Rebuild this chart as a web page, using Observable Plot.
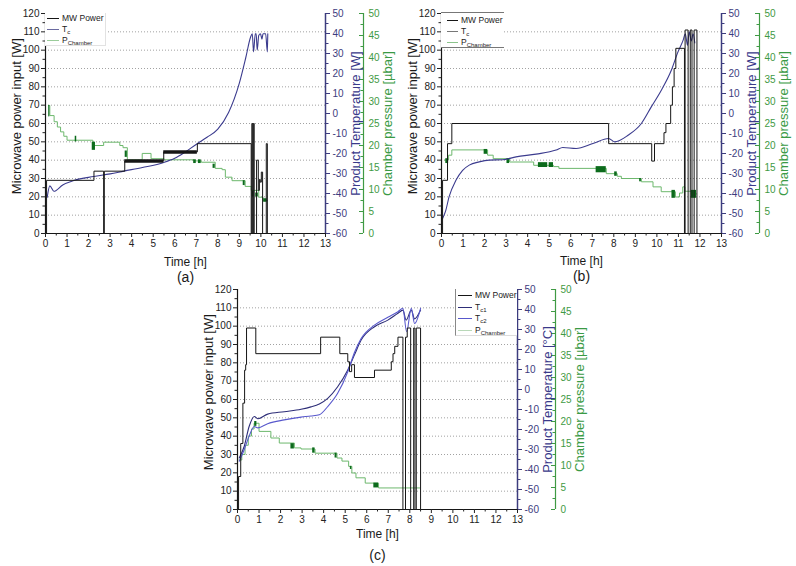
<!DOCTYPE html>
<html><head><meta charset="utf-8">
<script src="https://cdn.jsdelivr.net/npm/d3@7"></script>
<script src="https://cdn.jsdelivr.net/npm/@observablehq/plot@0.6"></script>
<style>
body{margin:0;background:#fff;font-family:"Liberation Sans",Arial,Helvetica,sans-serif;}
#wrap{position:relative;width:796px;height:566px;overflow:hidden;background:#fff;}
.panel{position:absolute;}
</style></head>
<body><div id="wrap"></div>
<script>
// ---------- Panel (a) ----------
const aPowerTime = [0, 0.05, 2.25, 2.7, 2.73, 3.68, 5.49, 7.05, 9.55, 9.58, 9.62, 9.65, 9.69, 9.8, 9.88, 9.93, 9.97, 10.02, 10.08, 10.25, 10.3, 10.35];
const aPowerW    = [0, 29,   34,   0,   34,   39.5, 44.5, 49,   0,    60,   0,    60,   0,    40,  23.5, 29.5, 28,   33.5,  0,     49,    0,    0];
const aThickT1 = [3.68, 5.49];
const aThickT2 = [5.49, 7.05];
const aThickW  = [39.5, 44.5];
const aTempTime = [0.08, 0.2, 0.39, 0.8, 1.31, 2.24, 3.0, 3.64, 4.5, 5.49, 6.0, 6.4, 7.04, 7.5, 8.0, 8.5, 9.0, 9.3, 9.52, 9.6, 9.66, 9.74, 9.78, 9.83, 9.9, 9.98, 10.05, 10.1, 10.22, 10.3, 10.32];
const aTempC    = [-41.9, -36.2, -38.9, -35.7, -33.5, -31.5, -30.2, -28.8, -27.0, -24.5, -22.4, -19.9, -15.1, -11.9, -7.8, 0.5, 15.2, 28.0, 38.1, 39.9, 30.8, 39.9, 39.9, 31.7, 39.0, 39.9, 37.2, 39.9, 39.9, 30.8, 39.9];
const aPressTime = [0.15, 0.2, 0.4, 0.55, 0.7, 0.85, 1.0, 2.2, 2.7, 3.45, 3.6, 3.8, 4.49, 4.9, 5.5, 6.9, 7.23, 7.88, 8.2, 8.35, 8.66, 9.27, 9.55, 9.9, 10.1, 10.3];
const aPressUbar = [29.1, 26.8, 25.4, 24.2, 23.1, 22.1, 21.2, 20.0, 20.75, 20.0, 19.5, 16.75, 18.2, 17.0, 16.75, 16.5, 16.2, 14.8, 14.5, 12.8, 12.0, 10.7, 9.8, 8.25, 7.5, 7.5];
const aBlockT1 = [0.15, 1.38, 2.17, 3.7, 6.88, 7.1, 7.78, 9.18, 9.6, 9.76, 10.13];
const aBlockT2 = [0.2, 1.45, 2.32, 3.8, 7.0, 7.23, 7.88, 9.27, 9.68, 9.88, 10.29];
const aBlockP1 = [26.5, 20.8, 18.9, 17.3, 15.9, 15.9, 14.8, 10.9, 8.3, 8.3, 7.1];
const aBlockP2 = [29.1, 22.1, 20.75, 18.75, 16.75, 16.75, 15.75, 12.0, 9.6, 9.2, 7.9];

// ---------- Panel (b) ----------
const bPowerTime = [0, 0.05, 0.28, 0.48, 7.76, 9.76, 9.89, 10.33, 10.42, 10.64, 10.72, 10.8, 10.88, 11.28, 11.31, 11.45, 11.55, 11.63, 11.73, 11.86, 11.9];
const bPowerW    = [0, 29,   49,   60,   49,   39.5, 49,   55,    60,    70,    80,    90,   101,   0,     111,   0,     111,   0,     111,   0,     0];
const bTempTime = [0.05, 0.2, 0.35, 0.67, 0.98, 1.29, 1.75, 2.22, 2.84, 3.46, 4.39, 5.32, 5.63, 6.25, 7.03, 7.76, 8.04, 8.66, 9.28, 9.74, 10.2, 10.67, 10.98, 11.22, 11.32, 11.42, 11.5, 11.6, 11.68, 11.76];
const bTempC    = [-52.5, -48.4, -41.7, -33.4, -28.4, -25.8, -24.2, -23.3, -23.1, -21.7, -20.3, -18.3, -17.0, -17.5, -15.0, -12.5, -14.2, -10.9, -5.0, 3.3, 11.5, 21.6, 30.8, 36.7, 39.9, 34.1, 40.8, 36.3, 39.9, 35.3];
const bPressTime = [0.15, 0.33, 0.48, 2.14, 2.4, 3.16, 4.28, 5.2, 5.45, 7.65, 8.16, 8.35, 9.28, 9.82, 10.2, 10.86, 11.05, 11.2, 11.3, 11.6, 11.85];
const bPressUbar = [16.7, 17.8, 19.0, 17.8, 17.0, 16.25, 15.5, 15.2, 14.8, 13.6, 13.0, 12.5, 11.75, 10.6, 9.5, 8.3, 9.2, 10.6, 9.6, 9.0, 9.0];
const bBlockT1 = [0.2, 1.98, 3.04, 4.5, 5.0, 7.18, 8.04, 9.2, 10.7, 11.6];
const bBlockT2 = [0.33, 2.14, 3.16, 4.93, 5.2, 7.65, 8.16, 9.28, 10.86, 11.84];
const bBlockP1 = [15.9, 18.0, 15.9, 15.0, 15.0, 13.8, 13.0, 11.75, 8.0, 8.0];
const bBlockP2 = [17.0, 19.1, 17.0, 16.1, 16.1, 15.2, 14.0, 12.5, 9.8, 9.8];

// ---------- Panel (c) ----------
const cPowerTime = [0, 0.05, 0.15, 0.25, 0.33, 0.38, 0.42, 0.85, 3.86, 4.75, 5.12, 5.2, 5.3, 5.43, 6.36, 7.14, 7.22, 7.3, 7.45, 7.68, 7.8, 7.88, 8.04, 8.18, 8.24, 8.3, 8.5, 8.52];
const cPowerW    = [0, 18,   36,   58,   76,   79,   99,   85,   94,   85,   80.6, 75.2, 79,  72,   76,   80.6, 85,   89,  94,   0,    94,  99,   0,    99,   0,    99,  0,   0];
const cTemp1Time = [0.08, 0.31, 0.54, 0.78, 0.95, 1.4, 2.17, 2.95, 3.41, 3.8, 4.19, 4.65, 5.12, 5.43, 5.74, 6.36, 6.98, 7.45, 7.68, 7.83, 8.07, 8.22, 8.5];
const cTemp1C    = [-34.2, -28.5, -18.5, -13.5, -14.6, -12.3, -11.1, -9.9, -8.7, -7.2, -4.4, 1.4, 9.8, 17.3, 24.7, 31.4, 34.7, 38.1, 39.7, 34.7, 39.7, 35.3, 39.7];
const cTemp2Time = [0.08, 0.31, 0.54, 0.78, 0.95, 1.4, 2.17, 2.95, 3.41, 3.8, 4.19, 4.65, 5.12, 5.43, 5.74, 6.36, 6.98, 7.45, 7.68, 7.85, 8.07, 8.22, 8.5];
const cTemp2C    = [-35.9, -30.1, -23.3, -18.5, -19.2, -17.1, -15.2, -13.8, -13.25, -12.6, -8.5, -1.9, 8.9, 18.5, 25.5, 32.2, 36.1, 38.9, 40.6, 28.9, 40.6, 33.0, 40.6];
const cPressTime = [0.07, 0.2, 0.35, 0.5, 0.65, 0.77, 1.0, 1.55, 1.94, 2.64, 2.95, 3.6, 4.62, 4.85, 5.16, 5.31, 5.5, 5.93, 6.55, 8.46];
const cPressUbar = [11.25, 12.5, 14.6, 16.7, 18.3, 19.6, 17.75, 16.25, 15.1, 14.0, 13.75, 12.8, 11.7, 11.0, 9.8, 8.3, 7.2, 6.0, 4.9, 4.9];
const cBlockT1 = [0.8, 2.48, 3.49, 4.53, 5.24, 6.33];
const cBlockT2 = [0.9, 2.64, 3.6, 4.62, 5.31, 6.55];
const cBlockP1 = [18.9, 13.75, 12.8, 11.7, 9.1, 4.9];
const cBlockP2 = [20.0, 14.96, 14.0, 12.8, 9.8, 6.0];

// ---------- Axis ticks & labels ----------
const timeTicks = d3.range(0, 14, 1);
const powerTicks = d3.range(0, 121, 10);
const tempTicks = d3.range(-60, 51, 10);
const pressTicks = d3.range(0, 51, 5);
const legendNamesAB = ["MW Power", "T", "P"];
const legendSubsAB = ["", "c", "Chamber"];
const legendNamesC = ["MW Power", "T", "T", "P"];
const legendSubsC = ["", "c1", "c2", "Chamber"];

// ---------- helpers ----------
const FONT = "'Liberation Sans', Arial, Helvetica, sans-serif";
const BLACK = "#161616", TBLUE = "#3b3b8e", TBLUE2 = "#5858cc", AXBLUE = "#3c3c7e";
const GLIGHT = "#6db86d", GDARK = "#0c6b1c", GAXIS = "#3f9a44";
const tToW = c => (c + 60) * 120 / 110;
const pToW = p => p * 120 / 50;
const rows = (ts, vs) => ts.map((t, i) => ({t, v: vs[i]}));
const boxes = (a, b, c, d) => a.map((t1, i) => ({t1, t2: b[i], p1: c[i], p2: d[i]}));
const wrap = document.getElementById("wrap");

function panel(o) {
  const marks = [
    Plot.gridY(d3.range(10, 111, 10), {stroke: "#8a8a8a", strokeOpacity: 1, strokeWidth: 0.8, strokeDasharray: "1,2"}),
    Plot.line(o.press, {x: "t", y: d => pToW(d.v), curve: "step-after", stroke: GLIGHT, strokeWidth: 1}),
    Plot.rect(o.blocks, {x1: "t1", x2: "t2", y1: d => pToW(d.p1), y2: d => pToW(d.p2), fill: GDARK}),
    ...o.temps.map(s => Plot.line(s.rows, {x: "t", y: d => tToW(d.v), curve: "monotone-x", stroke: s.color, strokeWidth: 1.1})),
    Plot.line(o.power, {x: "t", y: "v", curve: "step-after", stroke: BLACK, strokeWidth: 1}),
    Plot.ruleY(o.thick, {x1: "t1", x2: "t2", y: "v", stroke: BLACK, strokeWidth: 3.5}),
    // axis lines
    Plot.ruleX([0], {stroke: BLACK, strokeWidth: 1.2}),
    Plot.ruleY([0], {stroke: BLACK, strokeWidth: 1.2}),
    Plot.ruleX([13], {stroke: AXBLUE, strokeWidth: 1.5}),
    Plot.ruleX([13], {dx: 38, stroke: GAXIS, strokeWidth: 1.2}),
    // bottom axis
    Plot.axisX(timeTicks, {tickSize: 4, tickPadding: 2, label: null, fontSize: 10, color: "#222"}),
    Plot.axisX(d3.range(0.5, 13, 1), {tickSize: 2.5, tickFormat: () => "", label: null, color: "#222"}),
    // left axis
    Plot.axisY(powerTicks, {anchor: "left", tickSize: 4, tickPadding: 2, label: null, fontSize: 10, color: "#222"}),
    Plot.axisY(d3.range(5, 120, 10), {anchor: "left", tickSize: 2.5, tickFormat: () => "", label: null, color: "#222"}),
    // temperature axis
    Plot.axisY(tempTicks.map(tToW), {anchor: "right", tickSize: 4, tickPadding: 3, label: null, fontSize: 10, color: AXBLUE,
      tickFormat: w => String(Math.round(w * 110 / 120 - 60))}),
    Plot.axisY(d3.range(-55, 50, 10).map(tToW), {anchor: "right", tickSize: 2.5, tickFormat: () => "", label: null, color: AXBLUE}),
    // pressure axis (offset)
    Plot.ruleY(pressTicks.map(pToW), {y: d => d, x1: 13, x2: 13, insetLeft: -4, dx: 38, stroke: GAXIS}),
    Plot.ruleY(d3.range(2.5, 50, 5).map(pToW), {y: d => d, x1: 13, x2: 13, insetLeft: -2.5, dx: 38, stroke: GAXIS}),
    Plot.text(pressTicks, {y: d => pToW(d), text: d => String(d), frameAnchor: "right", dx: 43, textAnchor: "start", fill: GAXIS, fontSize: 10}),
    // titles
    Plot.text(["Microwave power input [W]"], {text: d => d, y: () => 64, frameAnchor: "left", dx: -29, rotate: -90, textAnchor: "middle", lineAnchor: "middle", fontSize: 13, fill: "#1a1a1a"}),
    Plot.text([o.tempTitle], {text: d => d, y: () => 60, frameAnchor: "right", dx: 30, rotate: -90, textAnchor: "middle", lineAnchor: "middle", fontSize: 13, fill: "#3a3a8a"}),
    Plot.text(["Chamber pressure [µbar]"], {text: d => d, y: () => 60, frameAnchor: "right", dx: 62, rotate: -90, textAnchor: "middle", lineAnchor: "middle", fontSize: 13, fill: "#3a9a45"}),
    Plot.text(["Time [h]"], {text: d => d, frameAnchor: "bottom", dy: o.timeDy, textAnchor: "middle", lineAnchor: "middle", fontSize: 12, fill: "#1a1a1a"}),
    Plot.text([o.label], {text: d => d, frameAnchor: "bottom", dy: o.labelDy, textAnchor: "middle", lineAnchor: "middle", fontSize: 14, fill: "#1a1a1a"})
  ];
  const svg = Plot.plot({
    width: 400, height: 290,
    marginLeft: 45, marginRight: 75, marginTop: 13, marginBottom: 57,
    x: {domain: [0, 13]}, y: {domain: [0, 120]},
    style: {fontFamily: FONT, fontSize: "10px", background: "transparent", overflow: "visible", color: "#222"},
    marks
  });
  const div = document.createElement("div");
  div.className = "panel";
  div.style.left = o.left + "px";
  div.style.top = o.top + "px";
  div.appendChild(svg);
  wrap.appendChild(div);
}

function legend(o) {
  const box = document.createElement("div");
  box.style.cssText = `position:absolute;left:${o.left}px;top:${o.top}px;width:${o.width}px;height:${o.height}px;background:#fff;${o.border}`;
  wrap.appendChild(box);
  o.names.forEach((name, i) => {
    const row = document.createElement("div");
    row.style.cssText = `position:absolute;left:${o.sampleX - o.left}px;top:${o.rowY[i] - o.top - 6}px;height:12px;line-height:12px;white-space:nowrap;font-size:8.5px;color:#222;`;
    const sub = o.subs[i] ? `<span style="font-size:6px;position:relative;top:2px">${o.subs[i]}</span>` : "";
    row.innerHTML = `<svg width="${o.sampleW}" height="12" style="vertical-align:top"><line x1="0" x2="${o.sampleW}" y1="6.5" y2="6.5" stroke="${o.colors[i]}" stroke-width="1"/></svg><span style="margin-left:3px">${name}${sub}</span>`;
    box.appendChild(row);
  });
}

panel({left: 0, top: 0, label: "(a)", tempTitle: "Product Temperature [W]", timeDy: 29, labelDy: 44,
  power: rows(aPowerTime, aPowerW),
  thick: aThickT1.map((t1, i) => ({t1, t2: aThickT2[i], v: aThickW[i]})),
  temps: [{rows: rows(aTempTime, aTempC), color: TBLUE}],
  press: rows(aPressTime, aPressUbar),
  blocks: boxes(aBlockT1, aBlockT2, aBlockP1, aBlockP2)});
panel({left: 396, top: 0, label: "(b)", tempTitle: "Product Temperature [W]", timeDy: 28, labelDy: 43,
  power: rows(bPowerTime, bPowerW), thick: [],
  temps: [{rows: rows(bTempTime, bTempC), color: TBLUE}],
  press: rows(bPressTime, bPressUbar),
  blocks: boxes(bBlockT1, bBlockT2, bBlockP1, bBlockP2)});
panel({left: 192, top: 276, label: "(c)", tempTitle: "Product Temperature [°C]", timeDy: 25, labelDy: 46,
  power: rows(cPowerTime, cPowerW), thick: [],
  temps: [{rows: rows(cTemp1Time, cTemp1C), color: "#2e2e78"}, {rows: rows(cTemp2Time, cTemp2C), color: TBLUE2}],
  press: rows(cPressTime, cPressUbar),
  blocks: boxes(cBlockT1, cBlockT2, cBlockP1, cBlockP2)});

legend({left: 45, top: 13, width: 60, height: 32, border: "border-right:1px solid #e2e2e2;border-bottom:1px solid #e2e2e2;",
  sampleX: 47, sampleW: 12, rowY: [18, 29, 40], names: legendNamesAB, subs: legendSubsAB, colors: [BLACK, "#6a6aa0", "#9acc9a"]});
legend({left: 441, top: 12, width: 63, height: 34, border: "border-top:1px solid #777;border-bottom:1px solid #777;",
  sampleX: 447, sampleW: 11, rowY: [18.5, 29.5, 40.5], names: legendNamesAB, subs: legendSubsAB, colors: [BLACK, "#777", "#8cc48c"]});
legend({left: 455, top: 289, width: 61, height: 46, border: "border-left:1px solid #888;border-bottom:1px solid #ddd;",
  sampleX: 457, sampleW: 14, rowY: [295, 306.5, 318, 329.5], names: legendNamesC, subs: legendSubsC, colors: [BLACK, "#2e2e78", TBLUE2, "#b8d8b8"]});
</script></body></html>
